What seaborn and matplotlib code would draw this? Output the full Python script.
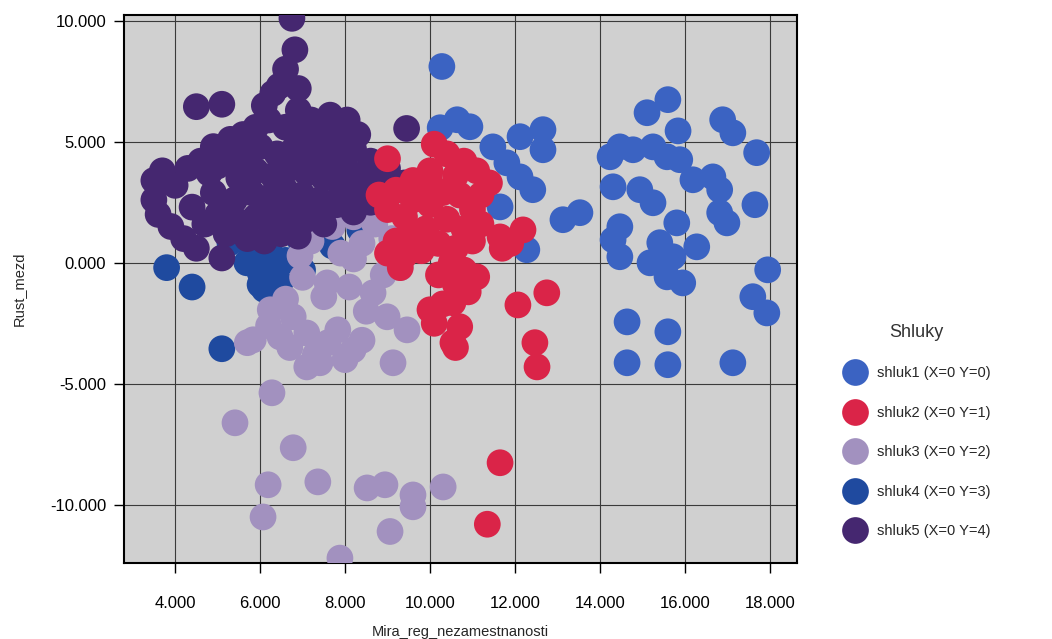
import pandas as pd
import seaborn as sns
import matplotlib.pyplot as plt
from matplotlib.ticker import FuncFormatter

# cluster data (x = Mira_reg_nezamestnanosti, y = Rust_mezd)
shluk1_x = [15.6, 15.11, 15.84, 16.89, 17.13, 17.69, 14.24, 14.47, 14.78, 15.25, 15.58, 15.88,
            14.31, 14.94, 15.25, 16.19, 16.66, 16.82, 16.82, 16.99, 17.65, 13.13, 13.53, 14.47,
            14.31, 14.47, 15.81, 15.41, 15.72, 15.18, 15.58, 15.95, 16.28, 17.95, 17.6, 17.93,
            14.64, 15.6, 14.64, 15.6, 17.13,
            10.64, 10.94, 10.24, 11.48, 12.12, 12.66, 12.66, 11.81, 12.12, 12.42, 11.65, 12.28, 10.28]
shluk1_y = [6.74, 6.2, 5.45, 5.91, 5.37, 4.55, 4.38, 4.79, 4.67, 4.79, 4.38, 4.26,
            3.14, 3.02, 2.48, 3.43, 3.55, 3.02, 2.07, 1.65, 2.4, 1.78, 2.07, 1.49,
            0.95, 0.25, 1.65, 0.83, 0.25, 0.0, -0.58, -0.83, 0.66, -0.29, -1.4, -2.07,
            -2.44, -2.85, -4.13, -4.21, -4.13,
            5.91, 5.62, 5.58, 4.79, 5.21, 5.5, 4.67, 4.13, 3.55, 3.02, 2.31, 0.54, 8.11]

shluk2_x = [9.0, 10.1, 10.4, 10.8, 11.1, 10.6, 10.0, 9.6, 9.2, 8.8, 9.0, 9.4, 9.6, 10.0, 10.3,
            10.7, 11.0, 11.2, 10.8, 10.4, 9.9, 9.5, 9.2, 9.4, 9.8, 10.2, 10.6, 11.0, 10.5, 10.8,
            10.2, 10.6, 10.9, 10.3, 10.0, 10.1, 10.54, 10.7, 10.54, 10.6, 11.65, 12.19, 11.7,
            11.9, 12.07, 12.75, 12.47, 12.52, 11.65, 11.35, 9.0, 9.3, 11.4, 11.2, 10.0, 11.1]
shluk2_y = [4.3, 4.9, 4.5, 4.2, 3.8, 3.6, 3.8, 3.4, 3.0, 2.8, 2.2, 1.9, 2.6, 2.4, 2.9,
            2.8, 2.2, 1.6, 1.4, 1.8, 1.4, 1.1, 0.9, 0.3, 0.5, 0.8, 0.6, 0.9, 0.0, -0.3,
            -0.5, -0.9, -1.2, -1.7, -1.94, -2.5, -1.65, -2.64, -3.3, -3.5, 1.07, 1.36, 0.6,
            0.8, -1.74, -1.24, -3.3, -4.3, -8.26, -10.8, 0.4, -0.2, 3.3, 2.8, 3.3, -0.58]

shluk3_x = [6.28, 5.41, 6.78, 6.19, 7.36, 6.07, 7.88, 8.52, 8.94, 9.6, 9.6, 10.31, 9.06,
            5.84, 6.24, 6.78, 7.1, 7.41, 8.19, 9.13, 9.46, 6.94, 7.58, 8.2, 8.66, 8.99, 6.47,
            7.83, 7.7, 8.2, 8.7, 9.1, 8.4, 7.9, 7.2, 7.0, 7.5, 8.1, 8.5, 7.1, 6.7, 7.6, 8.4,
            6.2, 5.7, 8.9, 9.3, 6.6, 8.0, 7.3]
shluk3_y = [-5.37, -6.61, -7.64, -9.17, -9.05, -10.5, -12.2, -9.3, -9.17, -9.59, -10.08, -9.26, -11.1,
            -3.18, -1.94, -2.23, -4.3, -4.13, -3.6, -4.13, -2.77, 0.29, -0.83, 0.16, -1.24, -2.23, -3.06,
            -2.77, 1.5, 1.9, 1.6, 1.0, 0.8, 0.4, 0.9, -0.6, -1.4, -1.0, -2.0, -2.9, -3.5, -3.3, -3.2,
            -2.6, -3.3, -0.5, -0.2, -1.5, -4.0, -3.8]

shluk4_x = [3.8, 4.4, 5.1, 5.69, 6.0, 6.24, 6.47, 6.94, 5.29, 8.35, 6.0, 6.3, 5.8, 6.6, 7.0, 7.7, 6.1]
shluk4_y = [-0.2, -1.0, -3.55, 0.0, -0.4, 0.41, -0.83, 0.95, 0.83, 1.36, -0.9, -0.3, 0.6, 0.1, -0.3, 0.7, -1.1]

shluk5_x = [6.75, 6.82, 6.6, 6.45, 6.9, 6.3, 4.5, 5.1, 8.05, 7.65, 9.45, 8.3,
            3.5, 3.7, 3.5, 3.6, 3.9, 4.2, 4.5, 4.3, 4.0, 4.4, 4.8, 4.9, 5.1, 5.2, 5.3, 4.7,
            5.6, 5.9, 6.2, 6.6, 7.0, 7.4, 7.8, 8.2, 8.6, 9.0, 9.2, 8.9,
            5.6, 6.0, 6.4, 6.8, 7.2, 7.6, 8.0, 8.4, 8.7,
            5.5, 5.9, 6.3, 6.7, 7.1, 7.5, 7.9, 8.3, 8.6,
            5.4, 5.8, 6.2, 6.6, 7.0, 7.4, 7.8, 8.2,
            5.5, 5.9, 6.3, 6.7, 7.1, 7.5, 5.7, 6.1, 6.5,
            5.0, 5.0, 5.2, 4.6, 6.9, 7.2, 6.1, 7.6, 9.4,
            7.9, 8.5, 8.8, 4.9, 5.6, 7.3, 6.9, 6.4]
shluk5_y = [10.1, 8.8, 8.0, 7.3, 7.2, 7.0, 6.45, 6.55, 5.9, 6.1, 5.55, 5.3,
            3.4, 3.8, 2.6, 2.0, 1.5, 1.0, 0.6, 3.9, 3.2, 2.3, 3.7, 2.9, 0.2, 4.3, 5.1, 1.6,
            5.3, 5.6, 5.9, 5.6, 5.4, 5.1, 5.0, 4.7, 4.2, 3.9, 3.3, 2.8,
            4.4, 4.8, 4.5, 4.7, 4.4, 4.3, 4.0, 3.6, 3.3,
            3.5, 3.8, 3.6, 3.9, 3.7, 3.5, 3.2, 2.9, 2.5,
            2.6, 2.9, 2.7, 3.0, 2.8, 2.6, 2.4, 2.1,
            1.7, 1.9, 1.6, 2.0, 1.8, 1.6, 1.0, 0.9, 1.2,
            4.0, 2.0, 1.2, 4.2, 6.3, 5.9, 6.5, 5.7, 3.3,
            4.6, 3.4, 3.6, 4.8, 4.9, 2.1, 1.1, 2.3]

labels = ['shluk1 (X=0 Y=0)', 'shluk2 (X=0 Y=1)', 'shluk3 (X=0 Y=2)',
          'shluk4 (X=0 Y=3)', 'shluk5 (X=0 Y=4)']
colors = ['#3B63C2', '#DA2448', '#A291BF', '#1F4A9F', '#452770']

# drawing order roughly as in the picture (red on top)
parts = [(3, shluk4_x, shluk4_y), (2, shluk3_x, shluk3_y), (4, shluk5_x, shluk5_y),
         (0, shluk1_x, shluk1_y), (1, shluk2_x, shluk2_y)]
frames = []
for i, xs, ys in parts:
    frames.append(pd.DataFrame({'Mira_reg_nezamestnanosti': xs, 'Rust_mezd': ys, 'Shluky': labels[i]}))
df = pd.concat(frames, ignore_index=True)

sns.set_style('white')
plt.rcParams['font.family'] = ['Liberation Sans', 'DejaVu Sans']

fig = plt.figure(figsize=(10.52, 6.39), dpi=100)
ax = fig.add_axes([0.118, 0.119, 0.64, 0.858])
ax.set_facecolor('#D0D0D0')

sns.scatterplot(data=df, x='Mira_reg_nezamestnanosti', y='Rust_mezd', hue='Shluky',
                hue_order=labels, palette=colors, s=370, linewidth=0, alpha=1,
                ax=ax, zorder=3, legend=True)

ax.set_xlim(2.8, 18.65)
ax.set_ylim(-12.4, 10.25)
ax.set_xticks([4, 6, 8, 10, 12, 14, 16, 18])
ax.set_yticks([-10, -5, 0, 5, 10])
fmt = FuncFormatter(lambda v, p: '{:.3f}'.format(v))
ax.xaxis.set_major_formatter(fmt)
ax.yaxis.set_major_formatter(fmt)
ax.grid(True, color='#3a3a3a', linewidth=0.8, zorder=1)
ax.set_axisbelow(True)
ax.tick_params(axis='both', which='major', direction='out', length=7, width=1,
               colors='black', labelsize=12, bottom=True, left=True)
ax.tick_params(axis='x', pad=17)
ax.tick_params(axis='y', pad=6)
for sp in ax.spines.values():
    sp.set_color('black')
    sp.set_linewidth(1.5)

ax.set_xlabel('Mira_reg_nezamestnanosti', fontsize=10.5, labelpad=10)
ax.set_ylabel('Rust_mezd', fontsize=10.5, labelpad=17)

handles, _ = ax.get_legend_handles_labels()
leg = ax.legend(handles, labels, title='Shluky', loc='center left',
                bbox_to_anchor=(1.045, 0.24), frameon=False, fontsize=10.5,
                title_fontsize=13, markerscale=1.0, labelspacing=1.75,
                handletextpad=0.5)
leg.get_title().set_color('#333333')
leg._legend_box.sep = 18

fig.savefig('out.png', dpi=100)
